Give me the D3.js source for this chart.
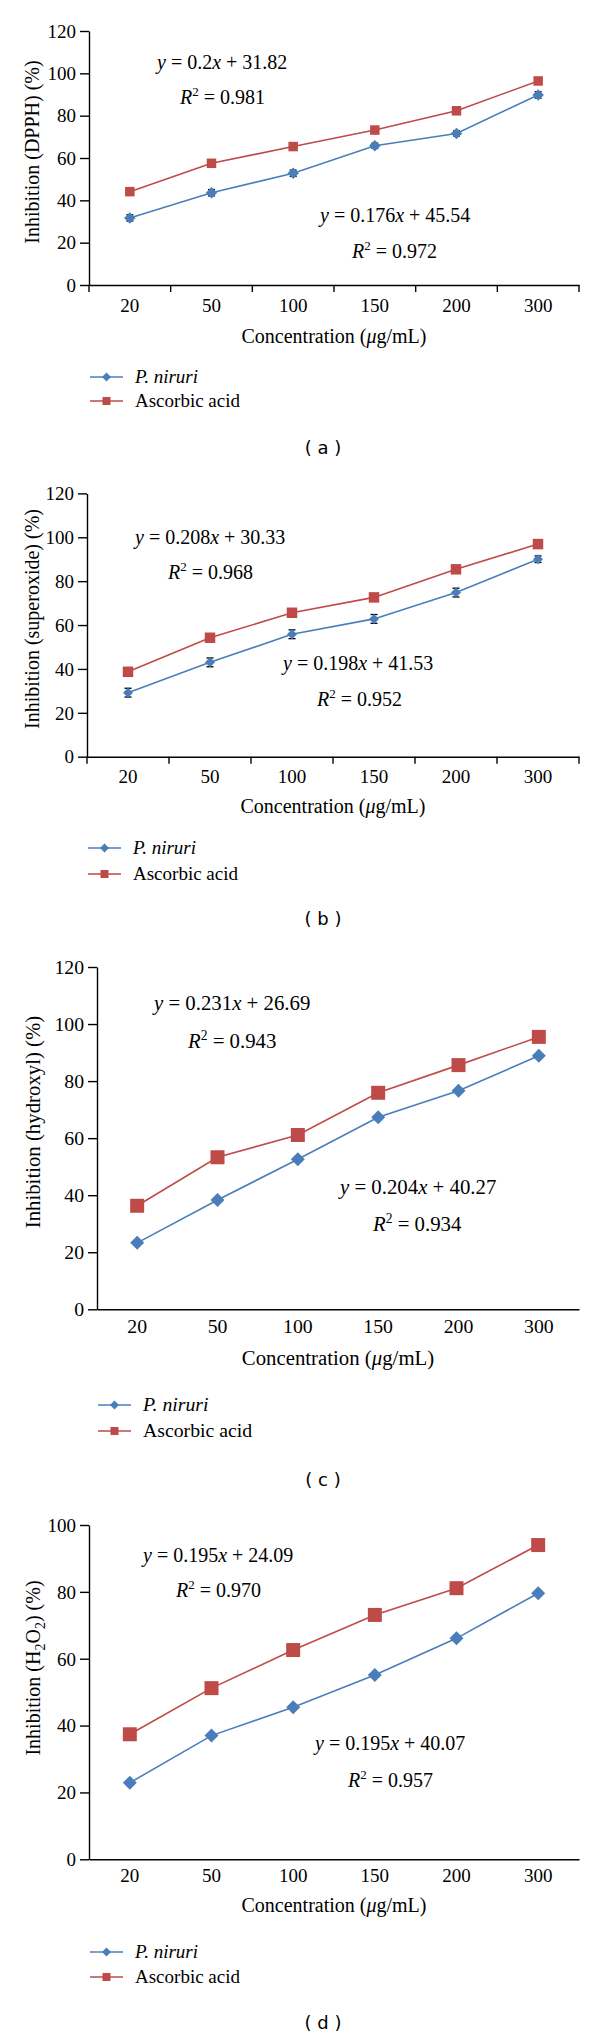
<!DOCTYPE html>
<html>
<head>
<meta charset="utf-8">
<script src="https://cdn.jsdelivr.net/npm/d3@7/dist/d3.min.js"></script>
<style>
  html, body { margin: 0; padding: 0; background: #fff; }
  svg { display: block; }
</style>
</head>
<body>
<svg id="chart" width="600" height="2039"></svg>
<script>
// ---------------- DATA ----------------
const categories = ["20", "50", "100", "150", "200", "300"];
const seriesNames = ["P. niruri", "Ascorbic acid"];

const dpphNiruri      = [31.7, 43.6, 52.8, 65.8, 71.6, 89.8];
const dpphAscorbic    = [44.1, 57.5, 65.4, 73.2, 82.3, 96.4];
const dpphNiruriErr   = [1.5, 1.5, 1.5, 1.2, 1.2, 1.5];

const superNiruri     = [29.2, 43.0, 55.8, 62.8, 74.8, 90.0];
const superAscorbic   = [38.7, 54.2, 65.6, 72.6, 85.4, 96.9];
const superNiruriErr  = [2.0, 2.0, 2.0, 2.0, 2.0, 1.5];
const superAscorbicErr = [0, 0, 0, 0, 0, 1.5];

const hydroxylNiruri   = [23.3, 38.3, 52.6, 67.3, 76.6, 88.9];
const hydroxylAscorbic = [36.3, 53.3, 61.1, 75.9, 85.6, 95.5];

const h2o2Niruri   = [22.9, 37.0, 45.5, 55.1, 66.1, 79.6];
const h2o2Ascorbic = [37.4, 51.2, 62.6, 73.1, 81.1, 94.0];

const yTicks120 = [0, 20, 40, 60, 80, 100, 120];
const yTicks100 = [0, 20, 40, 60, 80, 100];

const xTitleParts = ["Concentration (", "μ", "g/mL)"];

// equations: [slope, intercept, r2]
const eqDpph = [["0.2", "31.82", "0.981"], ["0.176", "45.54", "0.972"]];
const eqSuper = [["0.208", "30.33", "0.968"], ["0.198", "41.53", "0.952"]];
const eqHydroxyl = [["0.231", "26.69", "0.943"], ["0.204", "40.27", "0.934"]];
const eqH2o2 = [["0.195", "24.09", "0.970"], ["0.195", "40.07", "0.957"]];

// ---------------- LAYOUT ----------------
const BLUE = "#4A7EBB", RED = "#BE4B48";
const SERIF = "'Liberation Serif', 'Times New Roman', serif";

const panels = [
  { id: "a", yLabel: "Inhibition (DPPH) (%)", niruri: dpphNiruri, ascorbic: dpphAscorbic,
    errN: dpphNiruriErr, errA: null, eq: eqDpph, yTicks: yTicks120, yMax: 120,
    xL: 89, xR: 579, yTop: 31, yBot: 285, xTicks: true, dia: 11.5, sq: 9.5, fs: 1.0,
    yLabelPos: [32, 152], eqPos: [[157, 69, 180, 104], [320, 222, 352, 258]],
    tickBase: 312, titleBase: 343, leg: [377, 401], cap: 448 },
  { id: "b", yLabel: "Inhibition (superoxide) (%)", niruri: superNiruri, ascorbic: superAscorbic,
    errN: superNiruriErr, errA: superAscorbicErr, eq: eqSuper, yTicks: yTicks120, yMax: 120,
    xL: 87, xR: 579, yTop: 493.4, yBot: 756.7, xTicks: true, dia: 10, sq: 10.5, fs: 1.0,
    yLabelPos: [32, 619], eqPos: [[135, 544, 168, 579], [283, 670, 317, 706]],
    tickBase: 783, titleBase: 813, leg: [848, 874], cap: 919 },
  { id: "c", yLabel: "Inhibition (hydroxyl) (%)", niruri: hydroxylNiruri, ascorbic: hydroxylAscorbic,
    errN: null, errA: null, eq: eqHydroxyl, yTicks: yTicks120, yMax: 120,
    xL: 97, xR: 579, yTop: 967, yBot: 1309.3, xTicks: false, dia: 14, sq: 14, fs: 1.04,
    yLabelPos: [33, 1122], eqPos: [[154, 1010, 188, 1048], [340, 1194, 373, 1231]],
    tickBase: 1333, titleBase: 1365, leg: [1405, 1431], cap: 1480 },
  { id: "d", yLabel: "h2o2", niruri: h2o2Niruri, ascorbic: h2o2Ascorbic,
    errN: null, errA: null, eq: eqH2o2, yTicks: yTicks100, yMax: 100,
    xL: 89, xR: 579, yTop: 1525, yBot: 1859.3, xTicks: false, dia: 14, sq: 14, fs: 1.0,
    yLabelPos: [33, 1668], eqPos: [[143, 1562, 176, 1597], [315, 1750, 348, 1787]],
    tickBase: 1882, titleBase: 1912, leg: [1952, 1977], cap: 2023 }
];

const svg = d3.select("#chart");
svg.append("rect").attr("width", 600).attr("height", 2039).attr("fill", "#fff");

function diamondPath(w) { return d3.symbol(d3.symbolSquare, w * w / 2)(); }
function squarePath(s) { return d3.symbol(d3.symbolSquare, s * s)(); }

panels.forEach(p => {
  const g = svg.append("g").attr("class", "panel-" + p.id);
  const tickFs = 19 * p.fs, titleFs = 20 * p.fs, eqFs = 20 * p.fs, legFs = 19 * p.fs;

  const x = d3.scaleBand().domain(categories).range([p.xL, p.xR]);
  const y = d3.scaleLinear().domain([0, p.yMax]).range([p.yBot, p.yTop]);
  const cx = c => x(c) + x.bandwidth() / 2;

  // Y axis
  const ya = g.append("g").attr("transform", `translate(${p.xL},0)`)
    .call(d3.axisLeft(y).tickValues(p.yTicks).tickSize(9).tickSizeOuter(0).tickFormat(d3.format("d")));
  ya.select(".domain").attr("stroke", "#000").attr("stroke-width", 1.4);
  ya.selectAll(".tick line").attr("stroke", "#000").attr("stroke-width", 1.4);
  ya.selectAll(".tick text").attr("x", -13).attr("dy", "0.33em")
    .attr("font-family", SERIF).attr("font-size", tickFs).attr("fill", "#000");

  // X axis
  const xa = g.append("g").attr("transform", `translate(0,${p.yBot})`)
    .call(d3.axisBottom(x).tickSize(0).tickSizeOuter(0));
  xa.select(".domain").attr("stroke", "#000").attr("stroke-width", 1.4);
  xa.selectAll(".tick text").attr("y", p.tickBase - p.yBot).attr("dy", 0)
    .attr("font-family", SERIF).attr("font-size", tickFs).attr("fill", "#000");

  if (p.xTicks) {
    const bounds = categories.map(c => x(c)).concat([x(categories[categories.length - 1]) + x.bandwidth()]);
    g.append("g").selectAll("line").data(bounds).join("line")
      .attr("x1", d => d).attr("x2", d => d)
      .attr("y1", p.yBot).attr("y2", p.yBot + 7)
      .attr("stroke", "#000").attr("stroke-width", 1.4);
  }

  // X title
  const xt = g.append("text").attr("x", (p.xL + p.xR) / 2).attr("y", p.titleBase)
    .attr("text-anchor", "middle").attr("font-family", SERIF).attr("font-size", titleFs);
  xt.append("tspan").text(xTitleParts[0]);
  xt.append("tspan").attr("font-style", "italic").text(xTitleParts[1]);
  xt.append("tspan").text(xTitleParts[2]);

  // Y title
  const yt = g.append("text")
    .attr("transform", `translate(${p.yLabelPos[0]},${p.yLabelPos[1]}) rotate(-90)`)
    .attr("text-anchor", "middle").attr("dy", "0.33em")
    .attr("font-family", SERIF).attr("font-size", titleFs);
  if (p.yLabel === "h2o2") {
    yt.append("tspan").text("Inhibition (H");
    yt.append("tspan").attr("dy", 5).attr("font-size", titleFs * 0.7).text("2");
    yt.append("tspan").attr("dy", -5).text("O");
    yt.append("tspan").attr("dy", 5).attr("font-size", titleFs * 0.7).text("2");
    yt.append("tspan").attr("dy", -5).text(") (%)");
  } else {
    yt.text(p.yLabel);
  }

  // Series
  const series = [
    { name: seriesNames[0], vals: p.niruri, err: p.errN, color: BLUE, shape: "d" },
    { name: seriesNames[1], vals: p.ascorbic, err: p.errA, color: RED, shape: "s" }
  ];
  const line = d3.line().x(d => cx(d.c)).y(d => y(d.v));

  series.forEach(s => {
    const pts = categories.map((c, i) => ({ c, v: s.vals[i], e: s.err ? s.err[i] : 0 }));
    g.append("path").datum(pts).attr("d", line)
      .attr("fill", "none").attr("stroke", s.color).attr("stroke-width", 1.6);
    // error bars
    const eg = g.append("g");
    pts.filter(d => d.e > 0).forEach(d => {
      const X = cx(d.c), y1 = y(d.v - d.e), y2 = y(d.v + d.e);
      eg.append("line").attr("x1", X).attr("x2", X).attr("y1", y1).attr("y2", y2)
        .attr("stroke", "#000").attr("stroke-width", 1.3);
      [y1, y2].forEach(yy => eg.append("line").attr("x1", X - 3.5).attr("x2", X + 3.5)
        .attr("y1", yy).attr("y2", yy).attr("stroke", "#000").attr("stroke-width", 1.3));
    });
    g.append("g").selectAll("path").data(pts).join("path")
      .attr("d", s.shape === "d" ? diamondPath(p.dia) : squarePath(p.sq))
      .attr("transform", d => `translate(${cx(d.c)},${y(d.v)})` + (s.shape === "d" ? " rotate(45)" : ""))
      .attr("fill", s.color);
  });

  // Equations
  p.eq.forEach((e, i) => {
    const pos = p.eqPos[i];
    const t1 = g.append("text").attr("x", pos[0]).attr("y", pos[1])
      .attr("font-family", SERIF).attr("font-size", eqFs).attr("xml:space", "preserve");
    t1.append("tspan").attr("font-style", "italic").text("y");
    t1.append("tspan").text(" = " + e[0]);
    t1.append("tspan").attr("font-style", "italic").text("x");
    t1.append("tspan").text(" + " + e[1]);
    const t2 = g.append("text").attr("x", pos[2]).attr("y", pos[3])
      .attr("font-family", SERIF).attr("font-size", eqFs);
    t2.append("tspan").attr("font-style", "italic").text("R");
    t2.append("tspan").attr("dy", -8).attr("font-size", eqFs * 0.65).text("2");
    t2.append("tspan").attr("dy", 8).text(" = " + e[2]);
  });

  // Legend
  series.forEach((s, i) => {
    const ly = p.leg[i], lx = p.xL + 1;
    g.append("line").attr("x1", lx).attr("x2", lx + 33).attr("y1", ly).attr("y2", ly)
      .attr("stroke", s.color).attr("stroke-width", 1.6);
    g.append("path")
      .attr("d", s.shape === "d" ? diamondPath(9) : squarePath(8))
      .attr("transform", `translate(${lx + 16.5},${ly})` + (s.shape === "d" ? " rotate(45)" : ""))
      .attr("fill", s.color);
    const lt = g.append("text").attr("x", lx + 45).attr("y", ly + 6)
      .attr("font-family", SERIF).attr("font-size", legFs);
    if (i === 0) lt.attr("font-style", "italic");
    lt.text(s.name);
  });

  // Caption
  g.append("text").attr("x", 323).attr("y", p.cap + 6).attr("text-anchor", "middle")
    .attr("font-family", "'DejaVu Sans', sans-serif").attr("font-size", 18)
    .attr("xml:space", "preserve").text("( " + p.id + " )");
});
</script>
</body>
</html>
